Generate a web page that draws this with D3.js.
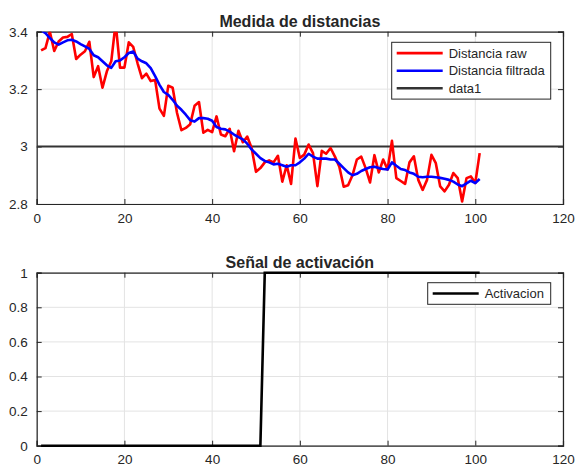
<!DOCTYPE html>
<html>
<head>
<meta charset="utf-8">
<script src="https://cdn.jsdelivr.net/npm/d3@7"></script>
<style>
  body { margin: 0; background: #fff; }
  text { font-family: "Liberation Sans", Arial, sans-serif; fill: #262626; }
</style>
</head>
<body>
<svg id="chart" width="576" height="466"></svg>
<script>

// raw and filtered distance, samples 1..101
var distRaw = [3.335,3.343,3.40,3.333,3.366,3.38,3.382,3.392,3.305,3.32,
  3.332,3.365,3.242,3.28,3.205,3.262,3.297,3.43,3.275,3.275,
  3.363,3.347,3.29,3.238,3.254,3.228,3.232,3.132,3.107,3.212,
  3.205,3.117,3.057,3.065,3.078,3.142,3.155,3.048,3.058,3.05,
  3.105,3.042,3.036,3.062,2.984,3.055,3.015,3.035,2.995,2.912,
  2.925,2.945,2.952,2.945,2.968,2.878,2.935,2.87,3.028,2.96,
  2.972,3.007,2.977,2.862,2.985,2.975,2.995,2.965,2.93,2.86,
  2.865,2.90,2.955,2.965,2.925,2.875,2.97,2.91,2.955,2.92,
  3.02,2.89,2.88,2.87,2.945,2.966,2.884,2.849,2.884,2.971,
  2.942,2.861,2.844,2.867,2.908,2.89,2.809,2.89,2.896,2.873,
  2.977];

var distFilt = [3.405,3.395,3.378,3.363,3.355,3.363,3.37,3.372,3.366,3.357,
  3.349,3.34,3.318,3.311,3.297,3.283,3.274,3.297,3.3,3.311,
  3.326,3.331,3.306,3.297,3.29,3.273,3.245,3.215,3.19,3.18,
  3.163,3.142,3.128,3.111,3.092,3.087,3.099,3.099,3.097,3.09,
  3.068,3.062,3.06,3.052,3.042,3.033,3.025,3.01,2.99,2.975,
  2.96,2.95,2.945,2.938,2.94,2.935,2.93,2.935,2.935,2.945,
  2.958,2.975,2.965,2.958,2.958,2.958,2.955,2.955,2.94,2.925,
  2.91,2.90,2.905,2.915,2.922,2.928,2.93,2.925,2.922,2.92,
  2.945,2.933,2.922,2.918,2.91,2.905,2.895,2.893,2.895,2.895,
  2.893,2.891,2.888,2.884,2.878,2.868,2.862,2.872,2.881,2.873,
  2.887];

var threshold = 3;

// activation: 0 up to sample 51, 1 from 52
var activacion = [];
for (var k = 1; k <= 101; k++) activacion.push(k <= 51 ? 0 : 1);

var xTicks = [0, 20, 40, 60, 80, 100, 120];
var yTicksTop = [2.8, 3, 3.2, 3.4];
var yTicksBottom = [0, 0.2, 0.4, 0.6, 0.8, 1];
var legendTop = ["Distancia raw", "Distancia filtrada", "data1"];
var legendBottom = ["Activacion"];
var titles = ["Medida de distancias", "Señal de activación"];

var svg = d3.select("#chart");

var x = d3.scaleLinear().domain([0, 120]).range([36.7, 563]);
var yTop = d3.scaleLinear().domain([2.8, 3.4]).range([204, 31.7]);
var yBot = d3.scaleLinear().domain([0, 1]).range([445.7, 272.7]);

function drawAxes(y, yTicks, fmt, title) {
  var x0 = x.range()[0], x1 = x.range()[1];
  var yb = y.range()[0], yt = y.range()[1];
  var g = svg.append("g");

  // grid
  g.selectAll(".gx").data(xTicks).enter().append("line")
    .attr("x1", function(d) { return x(d); }).attr("x2", function(d) { return x(d); })
    .attr("y1", yb).attr("y2", yt)
    .attr("stroke", "#e3e3e3").attr("stroke-width", 1);
  g.selectAll(".gy").data(yTicks).enter().append("line")
    .attr("x1", x0).attr("x2", x1)
    .attr("y1", function(d) { return y(d); }).attr("y2", function(d) { return y(d); })
    .attr("stroke", "#e3e3e3").attr("stroke-width", 1);

  // axes with inner ticks, mirrored on top/right
  g.append("g").attr("transform", "translate(0," + yb + ")")
    .call(d3.axisBottom(x).tickValues(xTicks).tickSize(-5).tickPadding(9).tickFormat(d3.format("d")));
  g.append("g").attr("transform", "translate(0," + yt + ")")
    .call(d3.axisTop(x).tickValues(xTicks).tickSize(-5).tickFormat(""));
  g.append("g").attr("transform", "translate(" + x0 + ",0)")
    .call(d3.axisLeft(y).tickValues(yTicks).tickSize(-5).tickPadding(9).tickFormat(fmt));
  g.append("g").attr("transform", "translate(" + x1 + ",0)")
    .call(d3.axisRight(y).tickValues(yTicks).tickSize(-5).tickFormat(""));

  g.selectAll(".domain").attr("stroke", "#262626").attr("stroke-width", 1.2);
  g.selectAll(".tick line").attr("stroke", "#262626");
  g.selectAll(".tick text").style("font-size", "13.5px").attr("fill", "#262626");

  svg.append("text")
    .attr("x", (x0 + x1) / 2).attr("y", yt - 4.5)
    .attr("text-anchor", "middle")
    .style("font-size", "16px").style("font-weight", "bold")
    .attr("fill", "#000")
    .text(title);
}

function fmtNum(d) { return d3.format("~g")(+d.toFixed(2)); }

drawAxes(yTop, yTicksTop, fmtNum, titles[0]);
drawAxes(yBot, yTicksBottom, fmtNum, titles[1]);

svg.append("clipPath").attr("id", "clipTop").append("rect")
  .attr("x", x.range()[0]).attr("y", yTop.range()[1])
  .attr("width", x.range()[1] - x.range()[0])
  .attr("height", yTop.range()[0] - yTop.range()[1]);

var lineTop = d3.line()
  .x(function(d, i) { return x(i + 1); })
  .y(function(d) { return yTop(d); });

var plotTop = svg.append("g").attr("clip-path", "url(#clipTop)");

plotTop.append("line")
  .attr("x1", x.range()[0]).attr("x2", x.range()[1])
  .attr("y1", yTop(threshold)).attr("y2", yTop(threshold))
  .attr("stroke", "#333").attr("stroke-width", 2);

plotTop.append("path").datum(distRaw)
  .attr("d", lineTop)
  .attr("fill", "none").attr("stroke", "#ff0000").attr("stroke-width", 2.6)
  .attr("stroke-linejoin", "round");

plotTop.append("path").datum(distFilt)
  .attr("d", lineTop)
  .attr("fill", "none").attr("stroke", "#0000ff").attr("stroke-width", 2.6)
  .attr("stroke-linejoin", "round");

var lineBot = d3.line()
  .x(function(d, i) { return x(i + 1); })
  .y(function(d) { return yBot(d); });

svg.append("path").datum(activacion)
  .attr("d", lineBot)
  .attr("fill", "none").attr("stroke", "#000").attr("stroke-width", 2.6);

// legends
function drawLegend(labels, colors, bx, by, bw, rowH) {
  var g = svg.append("g");
  g.append("rect")
    .attr("x", bx).attr("y", by)
    .attr("width", bw).attr("height", labels.length * rowH + 4)
    .attr("fill", "#fff").attr("stroke", "#262626").attr("stroke-width", 1);
  var row = g.selectAll(".row").data(labels).enter().append("g")
    .attr("transform", function(d, i) { return "translate(" + bx + "," + (by + 2 + rowH * (i + 0.5)) + ")"; });
  row.append("line")
    .attr("x1", 5).attr("x2", 51)
    .attr("stroke", function(d, i) { return colors[i]; })
    .attr("stroke-width", 2.6);
  row.append("text")
    .attr("x", 57).attr("dy", "0.35em")
    .style("font-size", "13px").attr("fill", "#000")
    .text(function(d) { return d; });
}

drawLegend(legendTop, ["#ff0000", "#0000ff", "#333"], 391.7, 42.3, 159, 17.6);
drawLegend(legendBottom, ["#000"], 427.7, 282.7, 123, 17.6);

</script>
</body>
</html>
